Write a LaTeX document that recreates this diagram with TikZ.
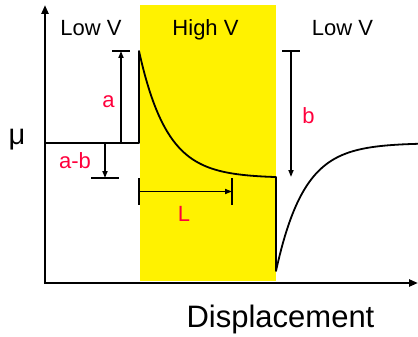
\documentclass[tikz,border=0pt]{standalone}
\usepackage{fontspec}
\setmainfont{Liberation Sans}
\usetikzlibrary{arrows.meta}
\definecolor{lblred}{RGB}{255,0,60}
\begin{document}
\begin{tikzpicture}[x=1pt,y=-1pt,
  axis/.style={line width=2.5pt, -{Triangle[length=9pt,width=7pt]}},
  curve/.style={line width=1.8pt},
  dim/.style={line width=1.6pt, -{Triangle[length=7pt,width=5pt]}},
  tickline/.style={line width=1.6pt},
  region/.style={font=\fontsize{22}{26}\selectfont, inner sep=0pt, anchor=base},
  lbl/.style={text=lblred, font=\fontsize{22}{26}\selectfont, inner sep=0pt, anchor=base},
]
\useasboundingbox (0,0) rectangle (418,337);
% high voltage region
\fill[yellow] (140,5) rectangle (276,281);
% axes
\coordinate (O) at (45,283);
\coordinate (ytop) at (45,5);
\coordinate (xend) at (418,283);
\draw[axis] (O) -- (ytop);
\draw[axis] ([xshift=-1.25pt]O) -- (xend);
% potential curve
\draw[curve,line join=round] (45,143) -- (139,143) -- (139,51)
  -- plot[domain=139:276,samples=80] (\x,{178-127*exp(-(\x-139)/28)})
  -- (276,178) -- (276,271)
  -- plot[domain=276:418,samples=80] (\x,{143+128*exp(-(\x-276)/28)});
% region labels
\node[region] (lv1) at (91,36) {Low V};
\node[region] (hv) at (205.5,36) {High V};
\node[region] (lv2) at (342.5,36) {Low V};
% axis labels
\node[inner sep=0pt, anchor=base, font=\fontsize{29}{33}\selectfont] (mu) at (17,144) {μ};
\node[inner sep=0pt, anchor=base, font=\fontsize{31}{35}\selectfont] (disp) at (280.5,327) {Displacement};
% dimension a
\coordinate (a0) at (121,143);
\coordinate (a1) at (121,51);
\coordinate (at1) at (112,51);
\coordinate (at2) at (130,51);
\draw[tickline] (at1) -- (at2);
\draw[dim] (a0) -- (a1);
\node[lbl] (la) at (108.5,107) {a};
% dimension a-b
\coordinate (ab0) at (105,143);
\coordinate (ab1) at (105,178);
\coordinate (abt1) at (91,178);
\coordinate (abt2) at (119,178);
\draw[tickline] (abt1) -- (abt2);
\draw[dim] (ab0) -- (ab1);
\node[lbl] (lab) at (75,168) {a-b};
% dimension b
\coordinate (b0) at (291,51);
\coordinate (b1) at (291,177);
\coordinate (bt1) at (282,51);
\coordinate (bt2) at (300,51);
\draw[tickline] (bt1) -- (bt2);
\draw[dim] (b0) -- (b1);
\node[lbl] (lb) at (308.5,123) {b};
% dimension L
\coordinate (Lt1a) at (139,178);
\coordinate (Lt1b) at (139,205);
\coordinate (Lt2a) at (232,178);
\coordinate (Lt2b) at (232,205);
\coordinate (L0) at (139,191.5);
\coordinate (L1) at (232,191.5);
\draw[tickline] (Lt1a) -- (Lt1b);
\draw[tickline] (Lt2a) -- (Lt2b);
\draw[dim] (L0) -- (L1);
\node[lbl] (lL) at (184,221.5) {L};
\end{tikzpicture}
\end{document}
